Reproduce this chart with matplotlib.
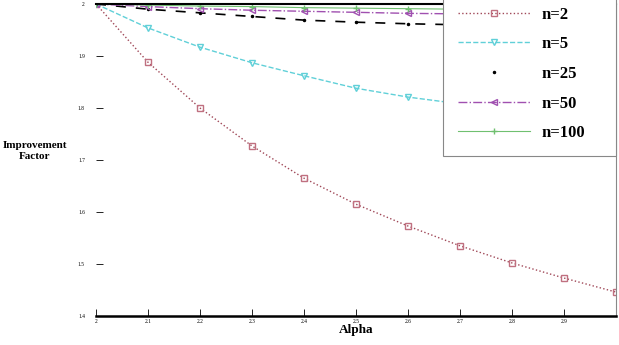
import matplotlib
matplotlib.use("Agg")
import matplotlib.pyplot as plt

alpha = [2.0, 2.1, 2.2, 2.3, 2.4, 2.5, 2.6, 2.7, 2.8, 2.9, 3.0]
n2 = [2.0, 1.888, 1.800, 1.727, 1.665, 1.615, 1.573, 1.535, 1.502, 1.473, 1.446]
n5 = [2.0, 1.954, 1.917, 1.887, 1.862, 1.838, 1.821, 1.808, 1.796, 1.785, 1.775]
n25 = [2.0, 1.990, 1.983, 1.976, 1.969, 1.965, 1.962, 1.960, 1.958, 1.956, 1.954]
n50 = [2.0, 1.995, 1.991, 1.988, 1.986, 1.984, 1.982, 1.981, 1.980, 1.979, 1.978]
n100 = [2.0, 1.998, 1.996, 1.995, 1.993, 1.992, 1.991, 1.990, 1.989, 1.988, 1.987]
xticks = [2.0, 2.1, 2.2, 2.3, 2.4, 2.5, 2.6, 2.7, 2.8, 2.9]
yticks = [1.4, 1.5, 1.6, 1.7, 1.8, 1.9, 2.0]

plt.rcParams['font.family'] = ['Liberation Serif', 'DejaVu Serif']

fig = plt.figure(figsize=(6.19, 3.45), dpi=100)
ax = fig.add_axes([96/619, 1-316/345, 520/619, 312/345])

ax.plot(alpha, n2, linestyle=':', color='#a04858', lw=1.0, marker='s', ms=4,
        mfc='none', mec='#c07080', label='n=2')
ax.plot(alpha, n5, linestyle='--', color='#60d0d8', lw=1.0, marker='v', ms=4,
        mfc='none', mec='#60d0d8', label='n=5')
ax.plot(alpha, n25, linestyle=(0, (6, 6)), color='black', lw=1.2, marker='.', ms=3,
        label='n=25')
ax.plot(alpha, n50, linestyle='-.', color='#a050b0', lw=1.0, marker='<', ms=4,
        mfc='none', mec='#a050b0', label='n=50')
ax.plot(alpha, n100, linestyle='-', color='#70c070', lw=0.8, marker='+', ms=5,
        label='n=100')

ax.set_xlim(2.0, 3.0)
ax.set_ylim(1.4, 2.0)
ax.set_xticks(xticks)
ax.set_xticklabels([f"{v:g}" for v in xticks])
ax.set_yticks(yticks)
ax.set_yticklabels([f"{v:g}" for v in yticks])
ax.tick_params(axis='both', direction='in', labelsize=4, length=5, width=0.6)
ax.tick_params(axis='y', pad=8)
ax.tick_params(axis='x', pad=2)

ax.spines['left'].set_visible(False)
ax.spines['bottom'].set_linewidth(1.8)
ax.spines['top'].set_linewidth(1.5)
ax.spines['right'].set_linewidth(0.8)
ax.spines['right'].set_color('#888888')

ax.set_xlabel('Alpha', fontsize=9.5, fontweight='bold', labelpad=0)
fig.text(35/619, 1-151/345, 'Improvement\nFactor', fontsize=8, fontweight='bold',
         ha='center', va='center', linespacing=1.3)

leg = ax.legend(loc='upper left', bbox_to_anchor=(0.667, 1.04, 0.333, 0.0),
                mode='expand', frameon=True, fancybox=False, handlelength=4.3,
                prop={'weight': 'bold', 'size': 12}, labelspacing=0.82,
                borderaxespad=0, handletextpad=0.7, borderpad=0.9)
leg.get_frame().set_edgecolor('#888888')
leg.get_frame().set_linewidth(0.8)
leg.get_frame().set_alpha(1.0)
leg.get_lines()[2].set_linestyle('none')

fig.savefig('out.png', dpi=100)
